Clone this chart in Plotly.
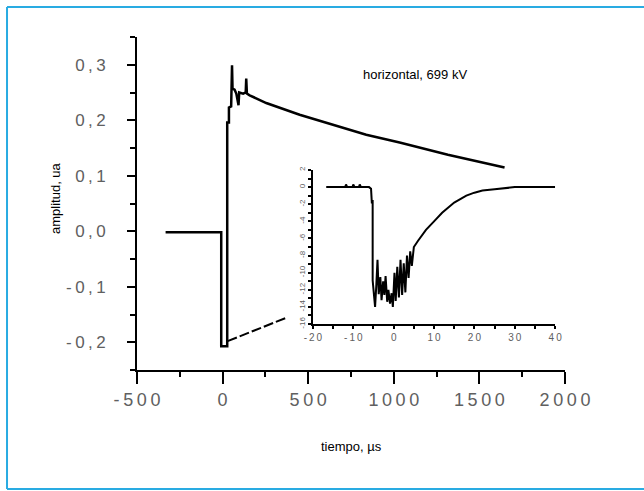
import plotly.graph_objects as go

# ---------------- data ----------------
main_t = [-333, -8, -8, 27, 27, 37, 37, 50, 55, 58, 70, 80, 93, 97, 120, 135, 138, 142, 158,
          255, 450, 644, 839, 1034, 1228, 1316, 1647]
main_v = [-0.002, -0.002, -0.207, -0.207, 0.196, 0.196, 0.223, 0.225, 0.299, 0.257, 0.255, 0.248,
          0.227, 0.250, 0.248, 0.250, 0.275, 0.248, 0.245,
          0.231, 0.210, 0.192, 0.174, 0.160, 0.144, 0.138, 0.115]

tail_t = [29, 380]
tail_v = [-0.198, -0.155]

inset_t = [-16.7, -12.0, -11.8, -11.5, -10.2, -10.0, -9.7, -8.6, -8.4, -8.1, -6.1, -5.6, -5.4, -5.2, -5.2, -4.6,
           -4.3, -4.0, -3.7, -3.3, -3.0, -2.6, -2.3, -2.0, -1.6, -1.3, -0.9, -0.5, -0.2,
           0.2, 0.5, 0.9, 1.3, 1.7, 2.1, 2.5, 2.9, 3.3, 3.7, 4.1, 4.5, 5.0,
           6.0, 7.0, 8.0, 10.0, 12.0, 15.0, 18.0, 20.0, 22.0, 25.0, 28.0, 30.0, 35.0, 40.0]
inset_v = [0.0, 0.0, 0.3, 0.0, 0.0, 0.3, 0.0, 0.0, 0.3, 0.0, 0.0, -0.2, -1.9, -1.5, -10.9, -14.0,
           -11.5, -8.5, -12.5, -10.5, -13.2, -11.0, -12.6, -10.4, -13.4, -12.0, -13.6, -12.4, -14.0,
           -10.0, -13.3, -9.3, -12.9, -8.5, -12.6, -8.9, -12.3, -8.0, -10.6, -7.5, -9.2, -7.0,
           -6.3, -5.6, -5.0, -4.0, -3.0, -1.8, -1.0, -0.65, -0.4, -0.25, -0.1, 0.0, 0.0, 0.0]

main_xticks = [-500, 0, 500, 1000, 1500, 2000]
main_xlabels = ["-500", "0", "500", "1000", "1500", "2000"]
main_yticks = [-0.2, -0.1, 0.0, 0.1, 0.2, 0.3]
main_ylabels = ["-0,2", "-0,1", "0,0", "0,1", "0,2", "0,3"]

inset_xticks = [-20, -10, 0, 10, 20, 30, 40]
inset_xlabels = ["-20", "-10", "0", "10", "20", "30", "40"]
inset_yticks = [-16, -14, -12, -10, -8, -6, -4, -2, 0, 2]
inset_ylabels = ["-16", "-14", "-12", "-10", "-8", "-6", "-4", "-2", "0", "2"]


def spaced(labels):
    return ["\u2009".join(s) for s in labels]


FONT = "Liberation Sans, Arial, sans-serif"
TICKCOL = "#606060"
BORDER = dict(color="#29abe2", width=2)

fig = go.Figure()
fig.add_trace(go.Scatter(x=main_t, y=main_v, mode="lines",
                         line=dict(color="black", width=2.5), xaxis="x", yaxis="y"))
fig.add_trace(go.Scatter(x=tail_t, y=tail_v, mode="lines",
                         line=dict(color="black", width=2, dash="10px,3px"), xaxis="x", yaxis="y"))
fig.add_trace(go.Scatter(x=inset_t, y=inset_v, mode="lines",
                         line=dict(color="black", width=2), xaxis="x2", yaxis="y2"))

fig.update_layout(
    width=644, height=491,
    margin=dict(l=137, r=79, t=37, b=121),
    paper_bgcolor="white", plot_bgcolor="white",
    showlegend=False,
    font=dict(family=FONT, color="black"),
    xaxis=dict(domain=[0, 1], range=[-500, 2000], showline=True, linecolor="black", linewidth=2,
               ticks="outside", ticklen=12, tickwidth=2, tickcolor="black",
               tickmode="array", tickvals=main_xticks, ticktext=spaced(main_xlabels),
               tickfont=dict(size=18, color=TICKCOL, family=FONT),
               minor=dict(ticks="outside", ticklen=5, tickwidth=2, tickcolor="black", tick0=-500, dtick=250),
               showgrid=False, zeroline=False, anchor="y"),
    yaxis=dict(domain=[0, 1], range=[-0.25, 0.35], showline=True, linecolor="black", linewidth=2,
               ticks="outside", ticklen=8, tickwidth=2, tickcolor="black",
               tickmode="array", tickvals=main_yticks, ticktext=spaced(main_ylabels),
               tickfont=dict(size=17, color=TICKCOL, family=FONT), ticklabelstandoff=18,
               minor=dict(ticks="outside", ticklen=5, tickwidth=2, tickcolor="black", tick0=-0.25, dtick=0.05),
               showgrid=False, zeroline=False, anchor="x"),
    xaxis2=dict(domain=[0.411, 0.977], range=[-20, 40], showline=True, linecolor="black", linewidth=2,
                ticks="outside", ticklen=3, tickwidth=1.5, tickcolor="black",
                tickmode="array", tickvals=inset_xticks, ticktext=spaced(inset_xlabels),
                tickfont=dict(size=10, color=TICKCOL, family=FONT),
                minor=dict(ticks="outside", ticklen=3, tickwidth=1.5, tickcolor="black", tick0=-20, dtick=5),
                showgrid=False, zeroline=False, anchor="y2"),
    yaxis2=dict(domain=[0.138, 0.6006], range=[-16, 2], showline=True, linecolor="black", linewidth=2,
                ticks="outside", ticklen=3, tickwidth=1.5, tickcolor="black",
                tickmode="array", tickvals=inset_yticks, ticktext=inset_ylabels, tickangle=-90,
                tickfont=dict(size=8, color=TICKCOL, family=FONT),
                minor=dict(ticks="outside", ticklen=3, tickwidth=1.5, tickcolor="black", tick0=-16, dtick=1),
                showgrid=False, zeroline=False, anchor="x2"),
    shapes=[
        dict(type="line", xref="paper", yref="paper", x0=-0.3037, x1=1.3, y0=1.09, y1=1.09, line=BORDER),
        dict(type="line", xref="paper", yref="paper", x0=-0.3037, x1=1.3, y0=-0.357, y1=-0.357, line=BORDER),
        dict(type="line", xref="paper", yref="paper", x0=-0.3037, x1=-0.3037, y0=-0.357, y1=1.09, line=BORDER),
    ],
    annotations=[
        dict(text="amplitud, ua", xref="paper", yref="paper", x=-0.1916, y=0.5165, textangle=-90,
             showarrow=False, font=dict(size=13, color="black", family=FONT), xanchor="center", yanchor="middle"),
        dict(text="tiempo, \u00b5s", xref="paper", yref="paper", x=0.502, y=-0.231,
             showarrow=False, font=dict(size=13, color="black", family=FONT), xanchor="center", yanchor="middle"),
        dict(text="horizontal, 699 kV", xref="paper", yref="paper", x=0.6495, y=0.886,
             showarrow=False, font=dict(size=13, color="black", family=FONT), xanchor="center", yanchor="middle"),
    ],
)

fig.write_html("out.html", config={"displayModeBar": False},
               post_script="document.body.style.margin='0';document.body.style.overflow='hidden';")
